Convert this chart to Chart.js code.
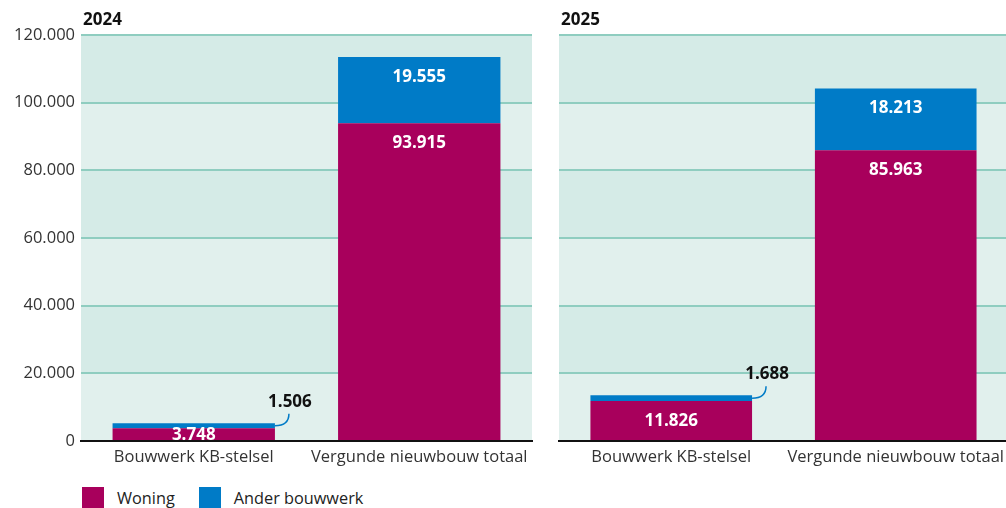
<!DOCTYPE html>
<html><head><meta charset="utf-8">
<script src="https://cdn.jsdelivr.net/npm/chart.js@4.4.1/dist/chart.umd.min.js"></script>
<style>
html,body{margin:0;padding:0;background:#fff;overflow:hidden;width:1006px;height:508px;}
#c1{position:absolute;left:0;top:0;}
#c2{position:absolute;left:540px;top:0;}
.legend{position:absolute;top:487px;left:82px;font-family:"Open Sans",sans-serif;font-size:16.3px;color:#222;display:flex;}
.legend span.sw{display:inline-block;width:22px;height:22px;vertical-align:top;margin-right:13px;}
.legend div{line-height:22px;}
.legend div.first{margin-right:24px;}
</style></head>
<body>
<canvas id="c1" width="540" height="480"></canvas>
<canvas id="c2" width="470" height="480"></canvas>
<div class="legend"><div class="first"><span class="sw" style="background:#a8005c"></span>Woning</div><div><span class="sw" style="background:#007bc7"></span>Ander bouwwerk</div></div>
<script>
const categories = ["Bouwwerk KB-stelsel", "Vergunde nieuwbouw totaal"];
const seriesNames = ["Woning", "Ander bouwwerk"];
const woning2024 = [3748, 93915];
const ander2024 = [1506, 19555];
const woning2025 = [11826, 85963];
const ander2025 = [1688, 18213];
const yTicks = [0, 20000, 40000, 60000, 80000, 100000, 120000];
const FONT = '"Open Sans", sans-serif';
const MAGENTA = '#a8005c', BLUE = '#007bc7';

function fmt(v){ return String(v).replace(/\B(?=(\d{3})+(?!\d))/g, '.'); }

const bandPlugin = {
  id:'bands',
  beforeDraw(chart){
    const {ctx, chartArea:a, scales:{y}} = chart;
    for(let i=0;i<yTicks.length-1;i++){
      const y0 = y.getPixelForValue(yTicks[i]), y1 = y.getPixelForValue(yTicks[i+1]);
      ctx.fillStyle = (i%2===0) ? '#e1f0ed' : '#d5ebe7';
      ctx.fillRect(a.left, y1, a.right-a.left, y0-y1);
    }
  }
};

const labelPlugin = {
  id:'labels',
  afterDatasetsDraw(chart){
    const ctx = chart.ctx;
    ctx.save();
    ctx.font = 'bold 17px ' + FONT;
    ctx.textAlign = 'center';
    ctx.textBaseline = 'middle';
    chart.data.datasets.forEach((ds, di)=>{
      const meta = chart.getDatasetMeta(di);
      meta.data.forEach((bar, i)=>{
        const v = ds.data[i];
        const top = bar.y, bottom = bar.base;
        const h = bottom - top;
        if (di === 0 || h >= 12){
          ctx.fillStyle = '#fff';
          const cy = Math.min(top + 20, (top+bottom)/2 + 1);
          ctx.fillText(fmt(v), bar.x, cy);
        } else {
          const right = bar.x + bar.width/2;
          const my = (top+bottom)/2;
          ctx.strokeStyle = BLUE; ctx.lineWidth = 1.5;
          ctx.beginPath();
          ctx.moveTo(right, my);
          ctx.quadraticCurveTo(right+14, my, right+14, my-12);
          ctx.stroke();
          ctx.fillStyle = '#111';
          ctx.fillText(fmt(v), right+15, top-21);
        }
      });
    });
    ctx.restore();
  }
};

const titlePlugin = {
  id:'ptitle',
  afterDraw(chart, args, opts){
    const ctx = chart.ctx;
    ctx.save();
    ctx.font = 'bold 17px ' + FONT;
    ctx.fillStyle = '#111';
    ctx.textBaseline = 'alphabetic';
    ctx.textAlign = 'left';
    ctx.fillText(opts.text, chart.chartArea.left + 2, 25);
    ctx.restore();
  }
};

function makeChart(id, title, woning, ander, showTicks, yWidth, padRight){
  return new Chart(document.getElementById(id), {
    type:'bar',
    data:{
      labels: categories,
      datasets:[
        {label:seriesNames[0], data:woning, backgroundColor:MAGENTA, barPercentage:0.72, categoryPercentage:1},
        {label:seriesNames[1], data:ander, backgroundColor:BLUE, barPercentage:0.72, categoryPercentage:1}
      ]
    },
    plugins:[bandPlugin, labelPlugin, titlePlugin],
    options:{
      responsive:false, animation:false, devicePixelRatio:1,
      layout:{padding:{top:35, right:padRight, left:0, bottom:0}},
      plugins:{legend:{display:false}, tooltip:{enabled:false}, ptitle:{text:title}},
      scales:{
        x:{
          stacked:true,
          grid:{display:false, drawTicks:false},
          border:{display:true, color:'#111', width:2},
          ticks:{font:{family:FONT, size:16.5}, color:'#333', padding:6},
          afterFit(s){ s.height = 39; }
        },
        y:{
          stacked:true, min:0, max:120000,
          afterBuildTicks(s){ s.ticks = yTicks.map(v=>({value:v})); },
          grid:{color:(c)=> c.tick && c.tick.value===0 ? 'rgba(0,0,0,0)' : '#8fcdc0', lineWidth:2, drawTicks:false},
          border:{display:false},
          ticks:{display:showTicks, font:{family:FONT, size:16.5}, color:'#333', padding:6, callback:(v)=>fmt(v)},
          afterFit(s){ s.width = yWidth; }
        }
      }
    }
  });
}

makeChart('c1', '2024', woning2024, ander2024, true, 81, 8);
makeChart('c2', '2025', woning2025, ander2025, false, 19, 0);
</script>
</body></html>
